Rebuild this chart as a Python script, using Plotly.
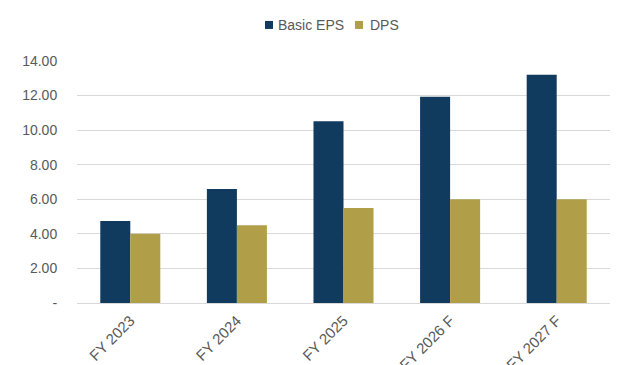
import plotly.graph_objects as go

# Fiscal years and per-share figures
years = ["FY 2023", "FY 2024", "FY 2025", "FY 2026 F", "FY 2027 F"]
series_names = ["Basic EPS", "DPS"]
basic_eps = [4.74, 6.59, 10.52, 11.93, 13.21]
dps = [4.00, 4.50, 5.50, 6.00, 6.00]

y_tickvals = [0, 2, 4, 6, 8, 10, 12, 14]
y_ticktext = ["-", "2.00", "4.00", "6.00", "8.00", "10.00", "12.00", "14.00"]

NAVY = "#103A5E"
GOLD = "#B09E48"
TEXT = "#595959"
GRID = "#D9D9D9"
FONT = "Liberation Sans, Arial, sans-serif"

fig = go.Figure()
for name, vals, color in zip(series_names, [basic_eps, dps], [NAVY, GOLD]):
    fig.add_trace(go.Bar(name=name, x=years, y=vals,
                         marker=dict(color=color, line=dict(width=0)),
                         showlegend=False))

# Legend row above the plot: square swatch followed by its label
legend_y = 1.149
legend_items = [(series_names[0], NAVY, 0.3527, 0.3734),
                (series_names[1], GOLD, 0.5216, 0.5460)]
shapes, annotations = [], []
for name, color, sx, tx in legend_items:
    shapes.append(dict(type="rect", xref="paper", yref="paper",
                       xsizemode="pixel", ysizemode="pixel",
                       xanchor=sx, yanchor=legend_y,
                       x0=0, x1=8, y0=-4, y1=4,
                       fillcolor=color, line=dict(width=0)))
    annotations.append(dict(text=name, xref="paper", yref="paper",
                            x=tx, y=legend_y, xanchor="left", yanchor="middle",
                            showarrow=False,
                            font=dict(family=FONT, size=14, color=TEXT)))

fig.update_layout(
    width=630, height=365,
    margin=dict(l=77, r=20, t=61, b=62, autoexpand=False),
    paper_bgcolor="white", plot_bgcolor="white",
    barmode="group", bargap=0.437, bargroupgap=0,
    font=dict(family=FONT, size=14, color=TEXT),
    showlegend=False,
    shapes=shapes, annotations=annotations,
    xaxis=dict(tickangle=-45, showgrid=False, showline=True, linecolor=GRID,
               linewidth=1, ticks="", automargin=False, ticklabelstandoff=2,
               tickfont=dict(size=15, color=TEXT)),
    yaxis=dict(range=[0, 14], tickvals=y_tickvals, ticktext=y_ticktext,
               showgrid=True, gridcolor=GRID, gridwidth=1, zeroline=False,
               showline=False, ticks="outside", ticklen=16, automargin=False,
               tickcolor="rgba(0,0,0,0)", tickfont=dict(size=14, color=TEXT)),
)

fig.write_html("out.html")
